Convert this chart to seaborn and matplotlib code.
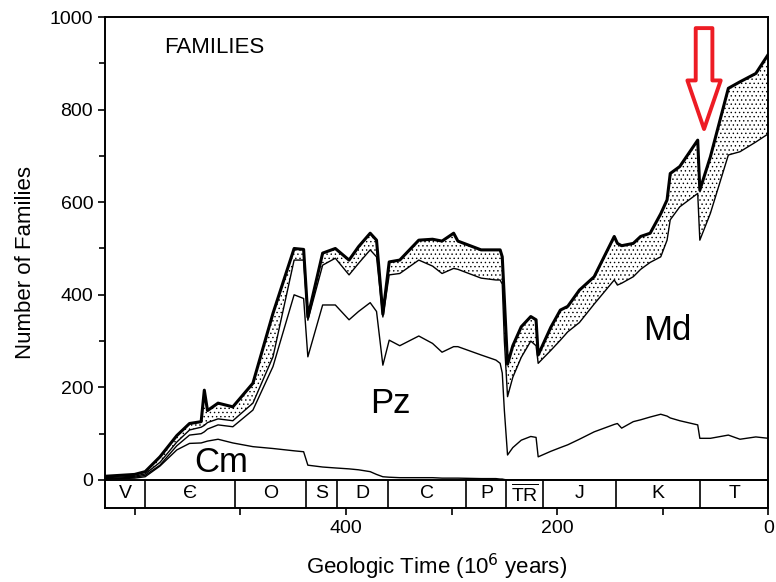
import matplotlib
matplotlib.use("Agg")
import matplotlib.pyplot as plt
import seaborn as sns

# time (Ma) and cumulative family counts
ages = [628, 600, 590, 576, 560, 548, 537, 534, 531, 521, 507, 488, 469, 449, 440, 436,
        422, 410, 397, 388, 377, 371, 365, 359, 349, 331, 318, 309, 298, 294, 272, 258,
        254, 252, 250, 247, 242, 234, 225, 220, 218, 206, 197, 190, 179, 165, 146, 143,
        139, 128, 121, 112, 102, 96, 93, 84, 67, 65, 55, 38, 27, 12, 0]
cm = [2, 4, 7, 30, 65, 79, 80, 82, 84, 88, 80, 72, 68, 63, 61, 32,
      28, 26, 24, 22, 18, 12, 7, 6, 5, 5, 5, 4, 4, 4, 3, 3,
      2, 2, 1, 0, 0, 0, 0, 0, 0, 0, 0, 0, 0, 0, 0, 0,
      0, 0, 0, 0, 0, 0, 0, 0, 0, 0, 0, 0, 0, 0, 0]
cm_pz = [3, 6, 10, 32, 74, 97, 100, 104, 110, 119, 115, 151, 245, 400, 392, 266,
         378, 378, 346, 364, 383, 364, 248, 302, 290, 311, 295, 276, 288, 288, 270, 259,
         252, 231, 150, 54, 70, 86, 94, 92, 50, 62, 70, 76, 88, 104, 120, 122,
         112, 126, 130, 136, 142, 138, 134, 128, 119, 90, 90, 97, 88, 93, 90]
cm_pz_md = [5, 8, 13, 38, 82, 108, 114, 118, 124, 132, 128, 166, 266, 475, 475, 345,
            464, 479, 443, 468, 497, 482, 352, 443, 446, 475, 462, 446, 457, 455, 436, 432,
            432, 423, 300, 180, 222, 265, 300, 290, 252, 280, 302, 320, 340, 380, 432, 421,
            425, 439, 455, 470, 482, 518, 562, 590, 619, 518, 576, 702, 709, 730, 748]
total = [8, 12, 18, 50, 96, 122, 126, 194, 150, 166, 158, 209, 360, 500, 498, 352,
         490, 500, 475, 504, 533, 518, 358, 471, 475, 518, 520, 516, 533, 516, 497, 497,
         497, 482, 390, 250, 290, 331, 353, 346, 270, 330, 367, 375, 410, 439, 526, 511,
         506, 511, 526, 533, 575, 605, 662, 677, 734, 626, 698, 846, 860, 878, 920]

period_bounds = [628, 590, 505, 438, 408, 360, 286, 248, 213, 144, 65, 0]
period_names = ["V", "Є", "O", "S", "D", "C", "P", r"$\overline{\mathregular{TR}}$", "J", "K", "T"]

sns.set_style("ticks")
plt.rcParams["font.family"] = ["Liberation Sans", "DejaVu Sans"]
plt.rcParams["hatch.linewidth"] = 0.5
plt.rcParams["text.color"] = "black"
plt.rcParams["axes.labelcolor"] = "black"

fig = plt.figure(figsize=(7.76, 5.82), dpi=100)
ax = fig.add_axes([105 / 776, 1 - 508 / 582, 663.5 / 776, 491 / 582])

ybot = -60.5

# stippled band between assigned faunas and the total
ax.fill_between(ages, cm_pz_md, total, facecolor="white", edgecolor="black",
                hatch="....", linewidth=0)
sns.lineplot(x=ages, y=cm, ax=ax, sort=False, estimator=None, color="black", lw=1.0)
sns.lineplot(x=ages, y=cm_pz, ax=ax, sort=False, estimator=None, color="black", lw=1.0)
sns.lineplot(x=ages, y=cm_pz_md, ax=ax, sort=False, estimator=None, color="black", lw=1.0)
sns.lineplot(x=ages, y=total, ax=ax, sort=False, estimator=None, color="black", lw=2.2)

# period bar
ax.axhline(0, color="black", lw=1.4)
ax.vlines(period_bounds[1:-1], ybot, 0, color="black", lw=1.2)
for i, name in enumerate(period_names):
    mid = (period_bounds[i] + period_bounds[i + 1]) / 2
    ax.text(mid, ybot / 2, name, ha="center", va="center", fontsize=14)

ax.set_xlim(628, 0)
ax.set_ylim(ybot, 1000)
ax.set_xticks([400, 200, 0])
ax.set_xticks([600, 500, 300, 100], minor=True)
ax.set_yticks([0, 200, 400, 600, 800, 1000])
ax.set_yticks([100, 300, 500, 700, 900], minor=True)
ax.tick_params(axis="both", which="both", direction="out", length=5, width=1.2,
               labelsize=14, colors="black")
ax.tick_params(axis="y", which="minor", length=4)
for s in ax.spines.values():
    s.set_linewidth(1.4)
    s.set_color("black")

ax.set_xlabel("Geologic Time (10$^6$ years)", fontsize=16, labelpad=11)
ax.set_ylabel("Number of Families", fontsize=16, labelpad=10)

ax.text(572, 935, "FAMILIES", fontsize=16, ha="left", va="center")
ax.text(358, 166, "Pz", fontsize=25, ha="center", va="center")
ax.text(96, 322, "Md", fontsize=25, ha="center", va="center")
ax.text(518, 37, "Cm", fontsize=25, ha="center", va="center")

# red hollow arrow marking the end-Cretaceous drop
ax.annotate("", xy=(61, 758), xytext=(61, 976),
            arrowprops=dict(arrowstyle="simple,head_length=35,head_width=24,tail_width=12",
                            mutation_scale=1, fc="white", ec="#ED1C24", lw=2.8,
                            shrinkA=0, shrinkB=0))

fig.savefig("out.png", dpi=100)
